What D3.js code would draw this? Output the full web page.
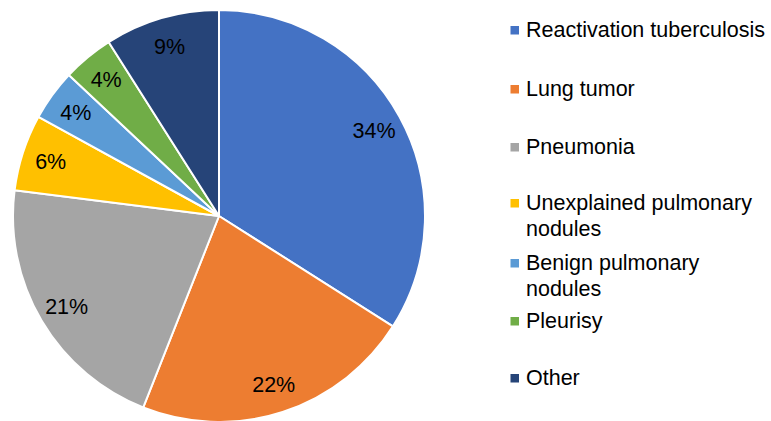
<!DOCTYPE html>
<html>
<head>
<meta charset="utf-8">
<script src="https://cdn.jsdelivr.net/npm/d3@7"></script>
<style>
  html, body { margin: 0; padding: 0; background: #fff; }
  svg { display: block; font-family: "Liberation Sans", Arial, sans-serif; }
</style>
</head>
<body>
<svg id="chart" width="771" height="421"></svg>
<script>
const categories = [
  "Reactivation tuberculosis",
  "Lung tumor",
  "Pneumonia",
  "Unexplained pulmonary nodules",
  "Benign pulmonary nodules",
  "Pleurisy",
  "Other"
];
const values = [34, 22, 21, 6, 4, 4, 9];
const legendLines = [
  ["Reactivation tuberculosis"],
  ["Lung tumor"],
  ["Pneumonia"],
  ["Unexplained pulmonary", "nodules"],
  ["Benign pulmonary", "nodules"],
  ["Pleurisy"],
  ["Other"]
];
const colors = ["#4472C4", "#ED7D31", "#A5A5A5", "#FFC000", "#5B9BD5", "#70AD47", "#264478"];

const svg = d3.select("#chart");
const cx = 219, cy = 216, R = 206, labelR = 177;

const color = d3.scaleOrdinal().domain(categories).range(colors);
const data = categories.map((c, i) => ({ name: c, value: values[i] }));
const pie = d3.pie().value(d => d.value).sort(null);
const arcs = pie(data);
const arc = d3.arc().innerRadius(0).outerRadius(R);
const labelArc = d3.arc().innerRadius(labelR).outerRadius(labelR);

const g = svg.append("g").attr("transform", `translate(${cx},${cy})`);
g.selectAll("path.slice").data(arcs).join("path")
  .attr("class", "slice")
  .attr("d", arc)
  .attr("fill", d => color(d.data.name))
  .attr("stroke", "#fff")
  .attr("stroke-width", 2)
  .attr("stroke-linejoin", "round");

const total = d3.sum(values);
g.selectAll("text.pct").data(arcs).join("text")
  .attr("class", "pct")
  .attr("transform", d => `translate(${labelArc.centroid(d)})`)
  .attr("text-anchor", "middle")
  .attr("dy", "0.36em")
  .attr("font-size", 21.5)
  .attr("fill", "#000")
  .text(d => d3.format(".0%")(d.data.value / total));

// Legend
const legendBaselines = [37, 96, 154, 210, 270, 328, 385];
const lineH = 25.5;
const leg = svg.append("g");
const items = leg.selectAll("g.item").data(data).join("g")
  .attr("class", "item")
  .attr("transform", (d, i) => `translate(0,${legendBaselines[i]})`);
items.append("rect")
  .attr("x", 510.5).attr("y", -11)
  .attr("width", 8.5).attr("height", 8.5)
  .attr("fill", d => color(d.name));
items.append("text")
  .attr("x", 526)
  .attr("font-size", 21.5)
  .attr("fill", "#000")
  .selectAll("tspan").data((d, i) => legendLines[i]).join("tspan")
  .attr("x", 526)
  .attr("y", (t, j) => j * lineH)
  .text(t => t);
</script>
</body>
</html>
